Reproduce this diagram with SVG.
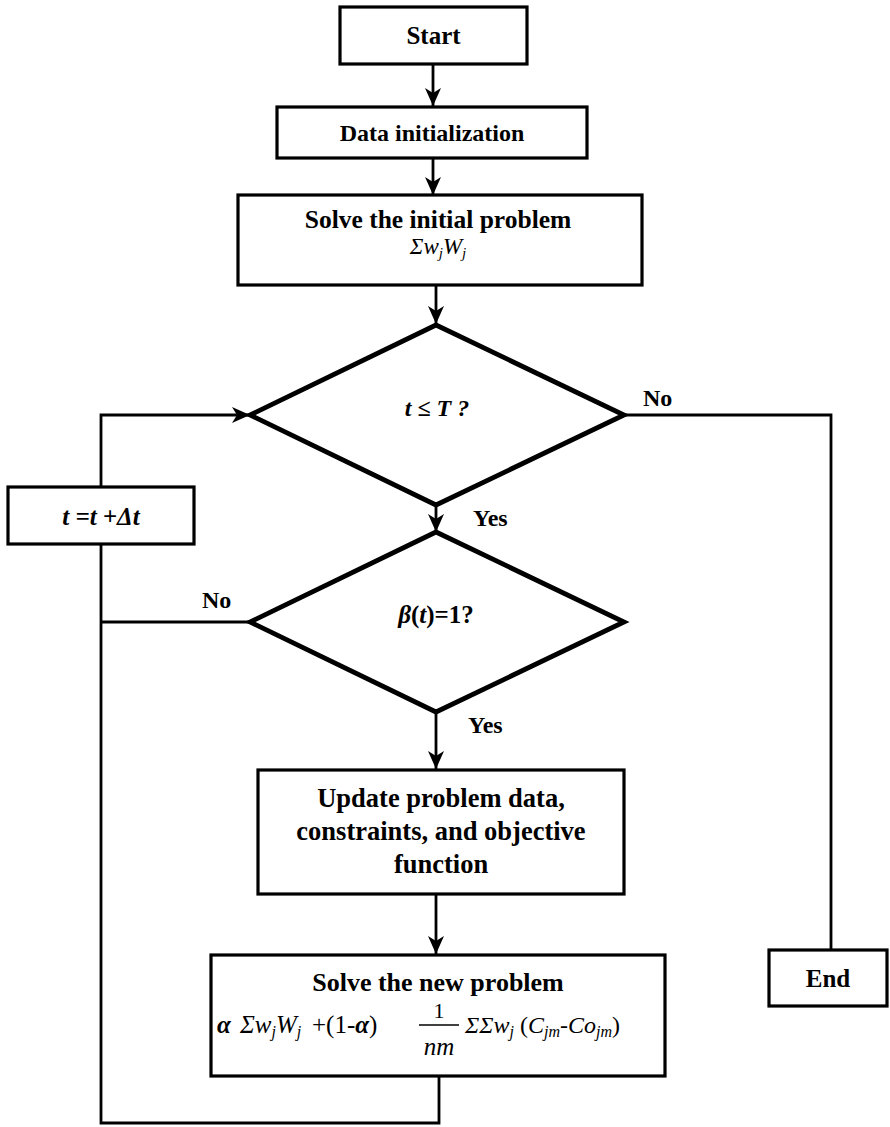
<svg xmlns="http://www.w3.org/2000/svg" width="890" height="1127" viewBox="0 0 890 1127">
<defs>
<style>
.box{fill:#fff;stroke:#000;stroke-width:3.2}
.dia{fill:#fff;stroke:#000;stroke-width:4.8;stroke-linejoin:miter}
.con{fill:none;stroke:#000;stroke-width:2.8}
.t{font-family:"Liberation Serif","Times New Roman",serif;font-weight:bold;fill:#000}
.i{font-style:italic}
.n{font-weight:normal}
</style>
<marker id="ah" markerUnits="userSpaceOnUse" markerWidth="20" markerHeight="18" refX="18" refY="8" orient="auto">
<path d="M0,0 L18,8 L0,16 L5,8 Z" fill="#000"/>
</marker>
</defs>
<g id="connectors">
<line class="con" x1="433" y1="64" x2="433" y2="106" marker-end="url(#ah)"/>
<line class="con" x1="433" y1="158" x2="433" y2="195" marker-end="url(#ah)"/>
<line class="con" x1="436" y1="285" x2="436" y2="324" marker-end="url(#ah)"/>
<line class="con" x1="436" y1="505" x2="436" y2="532" marker-end="url(#ah)"/>
<line class="con" x1="436" y1="712" x2="436" y2="769" marker-end="url(#ah)"/>
<line class="con" x1="436" y1="894" x2="436" y2="954" marker-end="url(#ah)"/>
<polyline class="con" points="624,415 831,415 831,950"/>
<polyline class="con" points="250,622 101,622"/>
<polyline class="con" points="439,1076 439,1123 101,1123 101,544"/>
<polyline class="con" points="101,487 101,415 250,415" marker-end="url(#ah)"/>
<text class="t" x="643" y="406" font-size="24">No</text>
<text class="t" x="473" y="526" font-size="24">Yes</text>
<text class="t" x="202" y="608" font-size="24">No</text>
<text class="t" x="468" y="733" font-size="24">Yes</text>
</g>
<g id="start">
<rect class="box" x="340" y="7" width="187" height="57"/>
<text class="t" x="433.5" y="44" font-size="25" text-anchor="middle">Start</text>
</g>
<g id="init">
<rect class="box" x="277" y="107" width="310" height="51"/>
<text class="t" x="432" y="141" font-size="24" text-anchor="middle">Data initialization</text>
</g>
<g id="solve-initial">
<rect class="box" x="238" y="195" width="404" height="90"/>
<text class="t" x="438" y="228" font-size="25.5" text-anchor="middle">Solve the initial problem</text>
<text class="t n i" x="438" y="254" font-size="23" text-anchor="middle">Σw<tspan font-size="15" dy="4">j</tspan><tspan dy="-4">W</tspan><tspan font-size="15" dy="4">j</tspan></text>
</g>
<g id="cond-t">
<polygon class="dia" points="436,325 624,415 436,505 250,415"/>
<text class="t i" x="437" y="416" font-size="24" text-anchor="middle">t ≤ T ?</text>
</g>
<g id="step">
<rect class="box" x="8" y="487" width="186" height="57"/>
<text class="t i" x="101" y="525" font-size="25" text-anchor="middle">t =t +Δt</text>
</g>
<g id="cond-beta">
<polygon class="dia" points="436,532 624,622 436,712 250,622"/>
<text class="t" x="436" y="623" font-size="25" text-anchor="middle"><tspan class="i">β</tspan>(<tspan class="i">t</tspan>)=1?</text>
</g>
<g id="update">
<rect class="box" x="258" y="770" width="366" height="124"/>
<text class="t" x="441" y="807" font-size="26.5" text-anchor="middle">Update problem data,</text>
<text class="t" x="441" y="840" font-size="26.5" text-anchor="middle">constraints, and objective</text>
<text class="t" x="441" y="873" font-size="26.5" text-anchor="middle">function</text>
</g>
<g id="solve-new">
<rect class="box" x="211" y="955" width="454" height="121"/>
<text class="t" x="438" y="991" font-size="26" text-anchor="middle">Solve the new problem</text>
<text class="t i" x="217" y="1033" font-size="25">α</text>
<text class="t n i" x="240" y="1033" font-size="25">Σw<tspan font-size="16" dy="4">j</tspan><tspan dy="-4">W</tspan><tspan font-size="16" dy="4">j</tspan></text>
<text class="t n" x="312" y="1033" font-size="25">+(1-<tspan class="i" font-weight="bold">α</tspan>)</text>
<text class="t n" x="439" y="1018" font-size="22" text-anchor="middle">1</text>
<line x1="419" y1="1025" x2="459" y2="1025" stroke="#000" stroke-width="1.6"/>
<text class="t n i" x="439" y="1055" font-size="25" text-anchor="middle">nm</text>
<text class="t n i" x="465" y="1033" font-size="24">ΣΣw<tspan font-size="16" dy="4">j</tspan><tspan font-style="normal" dy="-4"> (</tspan>C<tspan font-size="16" dy="4">jm</tspan><tspan font-style="normal" dy="-4">-</tspan>Co<tspan font-size="16" dy="4">jm</tspan><tspan font-style="normal" dy="-4">)</tspan></text>
</g>
<g id="end">
<rect class="box" x="769" y="950" width="118" height="56"/>
<text class="t" x="828" y="987" font-size="25" text-anchor="middle">End</text>
</g>
</svg>
